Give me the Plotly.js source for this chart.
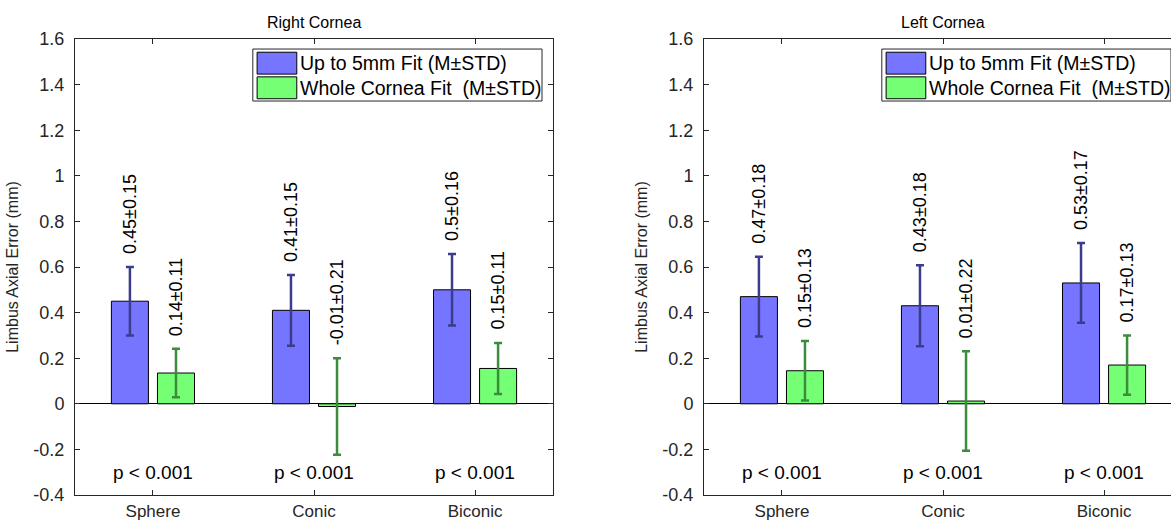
<!DOCTYPE html>
<html>
<head>
<meta charset="utf-8">
<script src="https://cdn.plot.ly/plotly-3.0.1.min.js"></script>
<style>
html, body { margin: 0; padding: 0; background: #fff; overflow: hidden; width: 1171px; height: 524px; }
#chart { width: 1200px; height: 524px; }
</style>
</head>
<body>
<div id="chart"></div>
<script>
// ---- data ----
const categories = ['Sphere', 'Conic', 'Biconic'];
const seriesNames = ['Up to 5mm Fit (M\u00b1STD)', 'Whole Cornea Fit  (M\u00b1STD)'];
const panelTitles = ['Right Cornea', 'Left Cornea'];

const rightFitMean = [0.45, 0.41, 0.50];
const rightFitStd = [0.15, 0.155, 0.157];
const rightWholeMean = [0.135, -0.012, 0.155];
const rightWholeStd = [0.106, 0.212, 0.112];
const rightFitLabels = ['0.45\u00b10.15', '0.41\u00b10.15', '0.5\u00b10.16'];
const rightWholeLabels = ['0.14\u00b10.11', '-0.01\u00b10.21', '0.15\u00b10.11'];
const rightP = ['p < 0.001', 'p < 0.001', 'p < 0.001'];

const leftFitMean = [0.47, 0.43, 0.53];
const leftFitStd = [0.175, 0.178, 0.175];
const leftWholeMean = [0.145, 0.012, 0.17];
const leftWholeStd = [0.13, 0.218, 0.13];
const leftFitLabels = ['0.47\u00b10.18', '0.43\u00b10.18', '0.53\u00b10.17'];
const leftWholeLabels = ['0.15\u00b10.13', '0.01\u00b10.22', '0.17\u00b10.13'];
const leftP = ['p < 0.001', 'p < 0.001', 'p < 0.001'];

const yTickVals = [-0.4, -0.2, 0, 0.2, 0.4, 0.6, 0.8, 1, 1.2, 1.4, 1.6];
const yTickText = ['-0.4', '-0.2', '0', '0.2', '0.4', '0.6', '0.8', '1', '1.2', '1.4', '1.6'];

// ---- style ----
const FONT = 'Liberation Sans, Arial, Helvetica, sans-serif';
const TXT = '#262626';
const blueFill = 'rgb(117,117,255)';
const greenFill = 'rgb(117,255,117)';
const blueErr = 'rgb(60,60,140)';
const greenErr = 'rgb(60,140,60)';
const xPos = categories.map((c, i) => i + 1);
const barOffset = 0.143;

const panels = [
  {xa: 'x', ya: 'y', fm: rightFitMean, fs: rightFitStd, wm: rightWholeMean, ws: rightWholeStd,
   fl: rightFitLabels, wl: rightWholeLabels, p: rightP, title: panelTitles[0]},
  {xa: 'x2', ya: 'y2', fm: leftFitMean, fs: leftFitStd, wm: leftWholeMean, ws: leftWholeStd,
   fl: leftFitLabels, wl: leftWholeLabels, p: leftP, title: panelTitles[1]}
];

const traces = [];
const annotations = [];
const shapes = [];

panels.forEach((pn, k) => {
  traces.push({
    type: 'bar', x: xPos, y: pn.fm, name: seriesNames[0], xaxis: pn.xa, yaxis: pn.ya,
    marker: {color: blueFill, line: {color: '#000', width: 1}},
    error_y: {type: 'data', array: pn.fs, visible: true, color: blueErr, thickness: 2.5, width: 4},
    showlegend: false, hoverinfo: 'skip'
  });
  traces.push({
    type: 'bar', x: xPos, y: pn.wm, name: seriesNames[1], xaxis: pn.xa, yaxis: pn.ya,
    marker: {color: greenFill, line: {color: '#000', width: 1}},
    error_y: {type: 'data', array: pn.ws, visible: true, color: greenErr, thickness: 2.5, width: 4},
    showlegend: false, hoverinfo: 'skip'
  });
  const xd = pn.xa + ' domain', yd = pn.ya + ' domain';
  // value labels
  xPos.forEach((x, i) => {
    annotations.push({xref: pn.xa, yref: pn.ya, x: x - barOffset, y: pn.fm[i] + pn.fs[i],
      text: pn.fl[i], textangle: -90, showarrow: false, xanchor: 'center', yanchor: 'bottom', yshift: 11,
      font: {family: FONT, size: 18, color: '#000'}});
    annotations.push({xref: pn.xa, yref: pn.ya, x: x + barOffset, y: pn.wm[i] + pn.ws[i],
      text: pn.wl[i], textangle: -90, showarrow: false, xanchor: 'center', yanchor: 'bottom', yshift: 11,
      font: {family: FONT, size: 18, color: '#000'}});
    annotations.push({xref: pn.xa, yref: pn.ya, x: x, y: -0.3,
      text: pn.p[i], showarrow: false, xanchor: 'center', yanchor: 'middle',
      font: {family: FONT, size: 19, color: '#000'}});
  });
  // panel title
  annotations.push({xref: xd, yref: yd, x: 0.5, y: 1, text: pn.title, showarrow: false,
    xanchor: 'center', yanchor: 'bottom', yshift: 6, font: {family: FONT, size: 16, color: '#000'}});
  // legend box
  shapes.push({type: 'rect', xref: xd, yref: yd, x0: 0.372, x1: 0.977, y0: 0.864, y1: 0.978,
    line: {color: '#262626', width: 1}, fillcolor: '#fff'});
  shapes.push({type: 'rect', xref: xd, yref: yd, x0: 0.381, x1: 0.464, y0: 0.923, y1: 0.971,
    line: {color: '#000', width: 1}, fillcolor: blueFill});
  shapes.push({type: 'rect', xref: xd, yref: yd, x0: 0.381, x1: 0.464, y0: 0.869, y1: 0.917,
    line: {color: '#000', width: 1}, fillcolor: greenFill});
  annotations.push({xref: xd, yref: yd, x: 0.466, y: 0.947, text: seriesNames[0], showarrow: false,
    xanchor: 'left', yanchor: 'middle', font: {family: FONT, size: 19.5, color: '#000'}});
  annotations.push({xref: xd, yref: yd, x: 0.466, y: 0.893, text: seriesNames[1], showarrow: false,
    xanchor: 'left', yanchor: 'middle', font: {family: FONT, size: 19.5, color: '#000'}});
});

function xaxis(domain, anchor) {
  return {domain: domain, anchor: anchor, range: [0.516, 3.484], tickvals: xPos, ticktext: categories,
    ticks: 'inside', ticklen: 5, tickcolor: TXT, showline: true, linecolor: TXT, linewidth: 1,
    mirror: 'ticks', showgrid: false, zeroline: false, fixedrange: true, ticklabelstandoff: 1,
    tickfont: {family: FONT, size: 17, color: TXT}};
}
function yaxis(anchor) {
  return {domain: [0, 1], anchor: anchor, range: [-0.4, 1.6], tickvals: yTickVals, ticktext: yTickText,
    ticks: 'inside', ticklen: 5, tickcolor: TXT, showline: true, linecolor: TXT, linewidth: 1,
    mirror: 'ticks', showgrid: false, zeroline: true, zerolinecolor: '#000', zerolinewidth: 1,
    fixedrange: true, ticklabelstandoff: 6, tickfont: {family: FONT, size: 18, color: TXT},
    title: {text: 'Limbus Axial Error (mm)', font: {family: FONT, size: 16, color: TXT}, standoff: 10}};
}

const layout = {
  width: 1200, height: 524,
  margin: {l: 0, r: 0, t: 39, b: 29, pad: 0},
  paper_bgcolor: '#fff', plot_bgcolor: '#fff',
  barmode: 'group', bargap: 0.428, bargroupgap: 0.196,
  xaxis: xaxis([75 / 1200, 553 / 1200], 'y'),
  yaxis: yaxis('x'),
  xaxis2: xaxis([704 / 1200, 1182 / 1200], 'y2'),
  yaxis2: yaxis('x2'),
  annotations: annotations,
  shapes: shapes,
  showlegend: false
};

Plotly.newPlot('chart', traces, layout, {displayModeBar: false, staticPlot: true});
</script>
</body>
</html>
